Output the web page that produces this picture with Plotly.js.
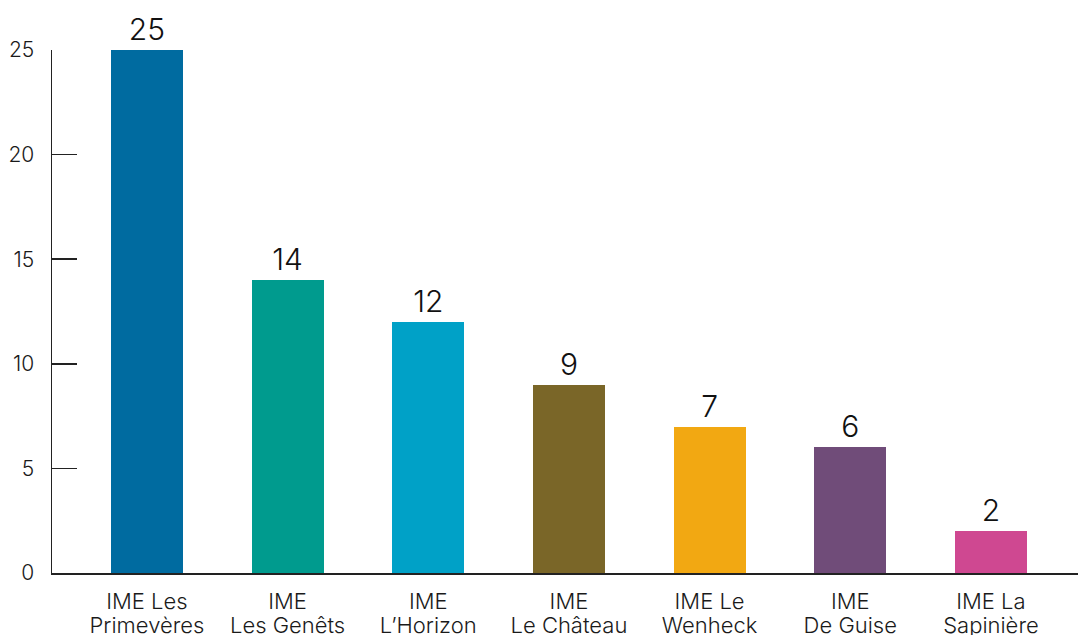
<!DOCTYPE html>
<html><head><meta charset="utf-8">
<script src="https://cdn.plot.ly/plotly-3.0.1.min.js"></script>
<style>html,body{margin:0;padding:0;background:#fff}#c{width:1078px;height:635px}</style>
</head><body><div id="c"></div>
<script>
const labelLine1 = ["IME Les","IME","IME","IME","IME Le","IME","IME La"];
const labelLine2 = ["Primevères","Les Genêts","L’Horizon","Le Château","Wenheck","De Guise","Sapinière"];
const values = [25,14,12,9,7,6,2];
const colors = ["#006BA0","#009B8E","#00A1C7","#7A6628","#F2A812","#704C79","#CF4891"];
const yTicks = [0,5,10,15,20,25];
const font = "Inter, 'Liberation Sans', sans-serif";
const idx = values.map((v,i)=>i);
const xr = [-0.675, 6.619];

Plotly.newPlot("c", [{
  type: "bar",
  x: idx,
  y: values,
  marker: {color: colors},
  width: 0.512,
  text: values.map(String),
  textposition: "outside",
  cliponaxis: false,
  textfont: {family: font, size: 30, color: "#111", weight: 300},
  hoverinfo: "none"
}, {
  type: "scatter", mode: "none", x: idx, y: values, xaxis: "x2", hoverinfo: "none"
}], {
  width: 1078, height: 635,
  margin: {l: 52, r: 0, t: 50, b: 62},
  paper_bgcolor: "#fff", plot_bgcolor: "#fff",
  showlegend: false,
  bargap: 0,
  xaxis: {
    range: xr,
    tickmode: "array", tickvals: idx, ticktext: labelLine1,
    showline: true, linecolor: "#222", linewidth: 1.5,
    ticks: "", showgrid: false, zeroline: false,
    tickfont: {family: font, size: 22, color: "#1a1a1a", weight: 300},
    ticklabelstandoff: 8
  },
  xaxis2: {
    overlaying: "x", anchor: "y", side: "bottom",
    range: xr,
    tickmode: "array", tickvals: idx, ticktext: labelLine2,
    showline: false, ticks: "", showgrid: false, zeroline: false,
    tickfont: {family: font, size: 22, color: "#1a1a1a", weight: 300},
    ticklabelstandoff: 37
  },
  yaxis: {
    range: [0, 25],
    tickmode: "array", tickvals: yTicks,
    showline: true, linecolor: "#222", linewidth: 1.5,
    ticks: "inside", ticklen: 25, tickcolor: "#222", tickwidth: 1.5,
    showgrid: false, zeroline: false,
    tickfont: {family: font, size: 21, color: "#1a1a1a", weight: 300},
    ticklabelstandoff: 12
  }
}, {displayModeBar: false, staticPlot: true});
</script></body></html>
